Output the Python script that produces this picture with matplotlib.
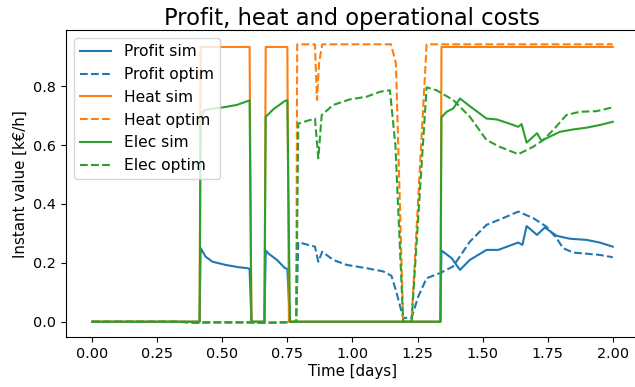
import matplotlib
matplotlib.use("Agg")
import matplotlib.pyplot as plt

# ---- data (time in days, values in k€/h) ----
profit_sim_t = [0.0, 0.413, 0.417, 0.436, 0.462, 0.513, 0.564, 0.596, 0.605, 0.612,
                0.662, 0.667, 0.677, 0.710, 0.741, 0.750, 0.760,
                1.338, 1.342, 1.381, 1.413, 1.451, 1.515, 1.560, 1.637, 1.653, 1.669,
                1.709, 1.739, 1.784, 1.835, 1.899, 1.950, 2.0]
profit_sim_v = [0.0, 0.0, 0.250, 0.221, 0.204, 0.193, 0.185, 0.182, 0.180, 0.0,
                0.0, 0.242, 0.232, 0.210, 0.182, 0.180, 0.0,
                0.0, 0.242, 0.216, 0.176, 0.210, 0.244, 0.244, 0.269, 0.261, 0.325,
                0.295, 0.320, 0.292, 0.282, 0.278, 0.269, 0.255]

profit_opt_t = [0.0, 0.33, 0.36, 0.40, 0.45, 0.60, 0.65, 0.70, 0.75, 0.784,
                0.792, 0.856, 0.869, 0.884, 0.926, 0.978, 1.054, 1.118, 1.150, 1.170,
                1.195, 1.227, 1.253, 1.285, 1.336, 1.387, 1.451, 1.515, 1.579, 1.637,
                1.694, 1.745, 1.784, 1.809, 1.848, 1.899, 1.950, 2.0]
profit_opt_v = [0.0, 0.0, -0.002, -0.004, -0.002, -0.002, -0.004, -0.003, -0.002, 0.0,
                0.270, 0.255, 0.204, 0.238, 0.210, 0.193, 0.182, 0.171, 0.156, 0.097,
                0.013, 0.013, 0.086, 0.148, 0.165, 0.188, 0.272, 0.329, 0.352, 0.374,
                0.352, 0.323, 0.284, 0.250, 0.235, 0.231, 0.227, 0.219]

heat_sim_t = [0.0, 0.413, 0.417, 0.605, 0.612, 0.662, 0.667, 0.750, 0.756,
              1.338, 1.342, 2.0]
heat_sim_v = [0.0, 0.0, 0.933, 0.933, 0.0, 0.0, 0.933, 0.933, 0.0,
              0.0, 0.933, 0.933]

heat_opt_t = [0.0, 0.33, 0.40, 0.60, 0.70, 0.784, 0.788, 0.856, 0.864, 0.872,
              0.884, 1.148, 1.167, 1.195, 1.227, 1.285, 2.0]
heat_opt_v = [0.0, 0.0, -0.002, -0.002, -0.003, 0.0, 0.942, 0.942, 0.753, 0.880,
              0.942, 0.942, 0.878, 0.0, 0.0, 0.942, 0.942]

elec_sim_t = [0.0, 0.413, 0.417, 0.430, 0.466, 0.504, 0.555, 0.600, 0.605,
              0.612, 0.662, 0.667, 0.697, 0.741, 0.750, 0.760,
              1.338, 1.342, 1.362, 1.387, 1.413, 1.451, 1.515, 1.554, 1.592, 1.637,
              1.650, 1.669, 1.709, 1.726, 1.745, 1.797, 1.848, 1.899, 1.950, 2.0]
elec_sim_v = [0.0, 0.0, 0.696, 0.718, 0.724, 0.728, 0.736, 0.750, 0.752,
              0.0, 0.0, 0.696, 0.722, 0.750, 0.752, 0.0,
              0.0, 0.694, 0.713, 0.724, 0.758, 0.732, 0.690, 0.687, 0.676, 0.662,
              0.671, 0.608, 0.640, 0.615, 0.623, 0.645, 0.653, 0.659, 0.668, 0.679]

elec_opt_t = [0.0, 0.33, 0.40, 0.60, 0.70, 0.784, 0.792, 0.856, 0.869, 0.882,
              0.926, 0.990, 1.054, 1.106, 1.144, 1.165, 1.195, 1.227, 1.285, 1.323,
              1.387, 1.451, 1.515, 1.566, 1.637, 1.694, 1.733, 1.771, 1.822, 1.873,
              1.937, 2.0]
elec_opt_v = [0.0, 0.0, -0.002, -0.002, -0.003, 0.0, 0.673, 0.690, 0.555, 0.702,
              0.736, 0.755, 0.764, 0.781, 0.786, 0.600, 0.0, 0.0, 0.796, 0.786,
              0.753, 0.696, 0.617, 0.594, 0.569, 0.594, 0.617, 0.651, 0.702, 0.713,
              0.715, 0.728]

xticks = [0.00, 0.25, 0.50, 0.75, 1.00, 1.25, 1.50, 1.75, 2.00]
yticks = [0.0, 0.2, 0.4, 0.6, 0.8]

# ---- figure ----
fig = plt.figure(figsize=(6.35, 3.87), dpi=100)
ax = fig.add_axes([0.104, 0.129, 0.902, 0.793])

blue, orange, green = "#1f77b4", "#ff7f0e", "#2ca02c"
lw = 1.5
ax.plot(profit_sim_t, profit_sim_v, color=blue, lw=lw, label="Profit sim")
ax.plot(profit_opt_t, profit_opt_v, color=blue, lw=lw, ls="--", label="Profit optim")
ax.plot(heat_sim_t, heat_sim_v, color=orange, lw=lw, label="Heat sim")
ax.plot(heat_opt_t, heat_opt_v, color=orange, lw=lw, ls="--", label="Heat optim")
ax.plot(elec_sim_t, elec_sim_v, color=green, lw=lw, label="Elec sim")
ax.plot(elec_opt_t, elec_opt_v, color=green, lw=lw, ls="--", label="Elec optim")

ax.set_xlim(-0.1, 2.1)
ax.set_ylim(-0.052, 0.99)
ax.set_xticks(xticks)
ax.set_xticklabels([f"{v:.2f}" for v in xticks])
ax.set_yticks(yticks)
ax.set_yticklabels([f"{v:.1f}" for v in yticks])
ax.tick_params(labelsize=10.4)

ax.set_xlabel("Time [days]", fontsize=10.8, labelpad=2)
ax.set_ylabel("Instant value [k€/h]", fontsize=10.8)
ax.set_title("Profit, heat and operational costs", fontsize=16.3, pad=4)
ax.legend(loc="upper left", fontsize=11.2)

fig.savefig("out.png", dpi=100)
